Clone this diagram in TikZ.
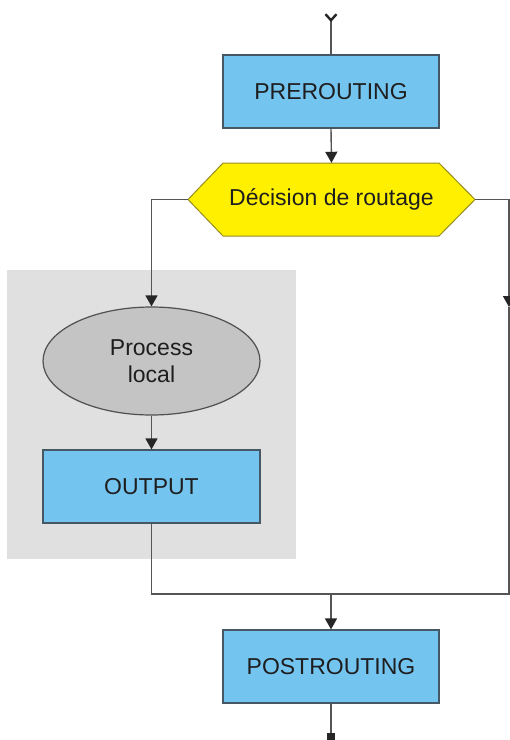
\documentclass[tikz,border=0pt]{standalone}
\usepackage{fontspec}
\setmainfont{Liberation Sans}
\usetikzlibrary{arrows.meta,shapes.geometric}
\definecolor{boxblue}{RGB}{116,196,240}
\definecolor{boxedge}{RGB}{70,88,100}
\definecolor{hexyellow}{RGB}{255,240,0}
\definecolor{hexedge}{RGB}{150,140,40}
\definecolor{ellfill}{RGB}{196,196,196}
\definecolor{elledge}{RGB}{80,80,80}
\definecolor{zone}{RGB}{224,224,224}
\definecolor{wire}{RGB}{85,85,85}
\definecolor{txt}{RGB}{30,30,30}
\tikzset{
  bluebox/.style={draw=boxedge, line width=1.2pt, fill=boxblue, minimum width=216pt, minimum height=73pt, inner sep=0pt, text=txt},
  hexlabel/.style={rectangle, minimum width=287pt, minimum height=73pt, inner sep=0pt, text=txt},
  procell/.style={ellipse, draw=elledge, line width=1.2pt, fill=ellfill, minimum width=217pt, minimum height=108pt, inner sep=0pt, text=txt, align=center},
  wireline/.style={draw=wire, line width=1.4pt},
  arr/.style={wireline, -{Triangle[length=11pt,width=12pt,color=black!85]}},
}
\begin{document}
\begin{tikzpicture}[x=1pt,y=-1pt, font=\fontsize{23}{27}\selectfont]
\useasboundingbox (0,0) rectangle (510,740);
\fill[white] (0,0) rectangle (510,740);
% grey zone
\fill[zone] (7,270) rectangle (296,559);
% hexagon
\filldraw[fill=hexyellow, draw=hexedge, line width=1pt]
  (188,199.5) -- (223,163) -- (439,163) -- (475,199.5) -- (439,236) -- (223,236) -- cycle;
% nodes
\node[bluebox] (pre) at (331,91.5) {PREROUTING};
\node[hexlabel] (dec) at (331.5,199.5) {Décision de routage};
\node[procell] (proc) at (151.5,361) {Process\\local};
\node[bluebox, minimum width=217pt] (out) at (151.5,486.5) {OUTPUT};
\node[bluebox] (post) at (331,666.5) {POSTROUTING};
% helper coordinates
\coordinate (top) at (331,13);
\coordinate (rtop) at (509,199.5);
\coordinate (rmid) at (509,307);
\coordinate (rbot) at (509,594);
\coordinate (merge) at (331,594);
\coordinate (bot) at (331,742);
% connectors
\draw[wireline, {Straight Barb[reversed,length=6pt,width=11pt,line width=2.4pt,color=black!85]}-] (top) -- (pre.north);
\draw[arr] (pre.south) -- (dec.north);
\draw[arr] (dec.west) -| (proc.north);
\draw[arr] (proc.south) -- (out.north);
\draw[arr] (dec.east) -- (rtop) -- (rmid);
\draw[wireline] (rmid) -- (rbot) -- (merge);
\draw[wireline] (out.south) |- (merge);
\draw[arr] (merge) -- (post.north);
\draw[wireline, -{Square[length=9pt,width=8pt,color=black!85]}] (post.south) -- (bot);
\end{tikzpicture}
\end{document}
